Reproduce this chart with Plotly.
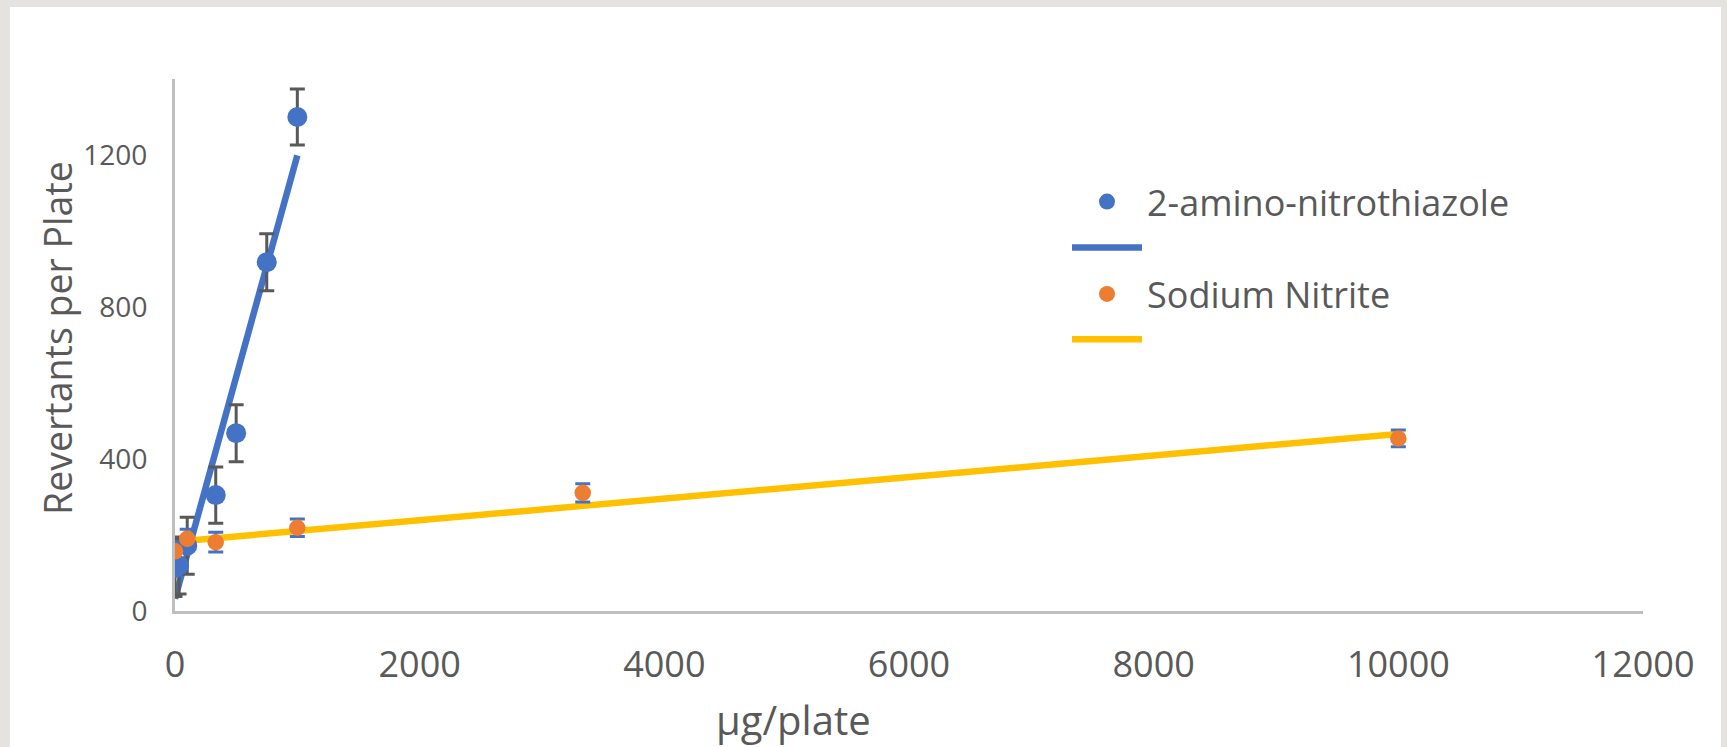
import numpy as np
import plotly.graph_objects as go

# ---- data ----
dose_amino = [0, 33, 100, 333, 500, 750, 1000]
rev_amino = [113, 120, 172, 305, 468, 918, 1300]
err_amino = [75, 75, 75, 74, 75, 75, 74]

dose_nitrite = [0, 100, 333, 1000, 3333, 10000]
rev_nitrite = [157, 190, 181, 219, 311, 454]
err_nitrite = [25, 25, 26, 23, 24, 22]

series_names = ["2-amino-nitrothiazole", "Sodium Nitrite"]
x_tickvals = [0, 2000, 4000, 6000, 8000, 10000, 12000]
x_ticktext = ["0", "2000", "4000", "6000", "8000", "10000", "12000"]
y_tickvals = [0, 400, 800, 1200]
y_ticktext = ["0", "400", "800", "1200"]

BLUE = "#4472C4"
ORANGE = "#ED7D31"
YELLOW = "#FFC000"
GREY_TXT = "#595959"
AXIS = "#BFBFBF"
FONT = "Open Sans"

W, H = 1727, 747
ML, MR, MT, MB = 175, 84, 79, 136
PW, PH = W - ML - MR, H - MT - MB


def px_x(px):
    return (px - ML) / PW


def px_y(py):
    return (H - MB - py) / PH


def linear_trend(x, y):
    k, b = np.polyfit(np.array(x, float), np.array(y, float), 1)
    xs = np.array([min(x), max(x)], float)
    return xs, k * xs + b


tx_a, ty_a = linear_trend(dose_amino, rev_amino)
tx_n, ty_n = linear_trend(dose_nitrite, rev_nitrite)

fig = go.Figure()

fig.add_trace(go.Scatter(
    x=tx_n, y=ty_n, mode="lines", name=" ", legend="legend4",
    line=dict(color=YELLOW, width=6.5), hoverinfo="skip"))
fig.add_trace(go.Scatter(
    x=tx_a, y=ty_a, mode="lines", name=" ", legend="legend2",
    line=dict(color=BLUE, width=6.5), hoverinfo="skip"))
fig.add_trace(go.Scatter(
    x=dose_amino, y=rev_amino, mode="markers", name=series_names[0], legend="legend",
    marker=dict(color=BLUE, size=20),
    error_y=dict(type="data", array=err_amino, visible=True,
                 color=GREY_TXT, thickness=3, width=7.5)))
fig.add_trace(go.Scatter(
    x=dose_nitrite, y=rev_nitrite, mode="markers", name=series_names[1], legend="legend3",
    marker=dict(color=ORANGE, size=16.5),
    error_y=dict(type="data", array=err_nitrite, visible=True,
                 color=BLUE, thickness=3, width=7.5)))


def legend_box(center_y):
    return dict(
        x=px_x(1067), y=px_y(center_y), xanchor="left", yanchor="middle",
        font=dict(family=FONT, size=36, color=GREY_TXT),
        itemwidth=70, bgcolor="rgba(0,0,0,0)", borderwidth=0,
    )


fig.update_layout(
    width=W, height=H,
    margin=dict(l=ML, r=MR, t=MT, b=MB, pad=0),
    paper_bgcolor="#E4E3DF",
    plot_bgcolor="white",
    font=dict(family=FONT, color=GREY_TXT),
    showlegend=True,
    legend=legend_box(201.7),
    legend2=legend_box(247.7),
    legend3=legend_box(294),
    legend4=legend_box(339.3),
    xaxis=dict(
        range=[0, 12000], tickvals=x_tickvals, ticktext=x_ticktext,
        showline=True, linecolor=AXIS, linewidth=3, showgrid=False, zeroline=False,
        ticks="", ticklabelstandoff=20,
        tickfont=dict(family=FONT, size=36, color=GREY_TXT),
    ),
    yaxis=dict(
        range=[0, 1400], tickvals=y_tickvals, ticktext=y_ticktext,
        showline=True, linecolor=AXIS, linewidth=3, showgrid=False, zeroline=False,
        ticks="", ticklabelstandoff=19,
        tickfont=dict(family=FONT, size=28, color=GREY_TXT),
    ),
    shapes=[dict(
        type="rect", xref="paper", yref="paper", layer="below",
        x0=px_x(10), x1=px_x(1721), y0=px_y(H + 20), y1=px_y(7),
        fillcolor="white", line=dict(width=0),
    )],
    annotations=[
        dict(text="µg/plate", xref="paper", yref="paper",
             x=px_x(793), y=px_y(719), xanchor="center", yanchor="middle",
             showarrow=False, font=dict(family=FONT, size=40, color=GREY_TXT)),
        dict(text="Revertants per Plate", xref="paper", yref="paper", textangle=-90,
             x=px_x(57), y=px_y(338), xanchor="center", yanchor="middle",
             showarrow=False, font=dict(family=FONT, size=37.5, color=GREY_TXT)),
    ],
)

fig.write_html("out.html", config={"displayModeBar": False},
               post_script="document.body.style.margin='0px';")
